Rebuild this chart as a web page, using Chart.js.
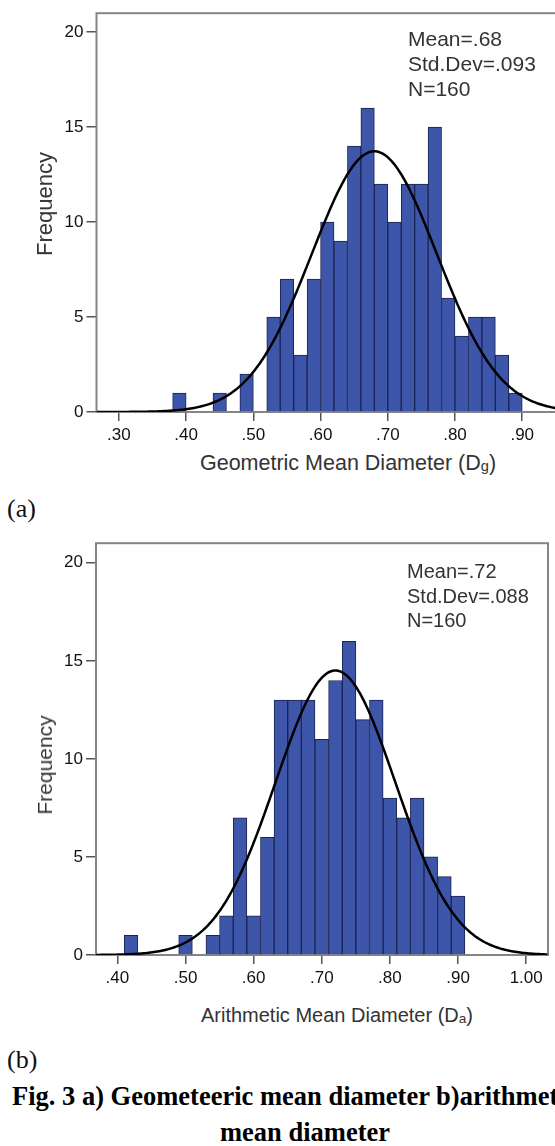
<!DOCTYPE html>
<html>
<head>
<meta charset="utf-8">
<script src="https://cdn.jsdelivr.net/npm/chart.js@4"></script>
<style>
  html, body { margin: 0; padding: 0; background: #fff; width: 555px; height: 1146px; overflow: hidden; }
  body { position: relative; font-family: "Liberation Sans", Arial, sans-serif; }
  .box { position: absolute; }
  .ytitle { position: absolute; white-space: nowrap; color: #333; transform: translate(-50%, -50%) rotate(-90deg); }
  .xtitle { position: absolute; white-space: nowrap; color: #333; transform: translate(-50%, -50%); }
  .xtitle sub { font-size: 0.68em; vertical-align: -0.12em; }
  .stats { position: absolute; color: #333; white-space: nowrap; }
  .tag { position: absolute; font-family: "Liberation Serif", "Times New Roman", serif; font-size: 26px; color: #111; }
  .cap { position: absolute; font-family: "Liberation Serif", "Times New Roman", serif; font-weight: bold; font-size: 26.5px; color: #000; white-space: nowrap; }
</style>
</head>
<body>

<div class="box" style="left:0; top:0; width:610px; height:444px;"><canvas id="geoChart" width="610" height="444"></canvas></div>
<div class="ytitle" style="left:45px; top:204px; font-size:22px;">Frequency</div>
<div class="xtitle" style="left:348px; top:463px; font-size:21.5px;">Geometric Mean Diameter (D<sub>g</sub>)</div>
<div class="stats" id="geoStats" style="left:408px; top:26px; font-size:21px; line-height:25px;"></div>

<div class="tag" style="left:7px; top:494px;">(a)</div>

<div class="box" style="left:0; top:530px; width:555px; height:457px;"><canvas id="ariChart" width="555" height="457"></canvas></div>
<div class="ytitle" style="left:45px; top:765px; font-size:21px;">Frequency</div>
<div class="xtitle" style="left:337px; top:1015px; font-size:20px;">Arithmetic Mean Diameter (D<sub>a</sub>)</div>
<div class="stats" id="ariStats" style="left:407px; top:559px; font-size:20px; line-height:24.5px;"></div>

<div class="tag" style="left:7px; top:1045px;">(b)</div>

<div class="cap" style="left:12px; top:1081px;">Fig. 3 a) Geometeeric mean diameter b)arithmetic</div>
<div class="cap" style="left:220px; top:1117px;">mean diameter</div>

<script>
// bin width shared by both histograms
const binWidth = 0.02;

// geometric mean diameter: left edge of each bin and its count
const geoBinStart = [0.38, 0.40, 0.42, 0.44, 0.46, 0.48, 0.50, 0.52, 0.54, 0.56, 0.58, 0.60, 0.62,
                     0.64, 0.66, 0.68, 0.70, 0.72, 0.74, 0.76, 0.78, 0.80, 0.82, 0.84, 0.86, 0.88];
const geoCounts   = [1, 0, 0, 1, 0, 2, 0, 5, 7, 3, 7, 10, 9,
                     14, 16, 12, 10, 12, 12, 15, 6, 4, 5, 5, 3, 1];
const geoMean = 0.68;
const geoSd = 0.093;
const geoN = 160;
const geoRange = [0.2667, 1.0];

// arithmetic mean diameter
const ariBinStart = [0.41, 0.43, 0.45, 0.47, 0.49, 0.51, 0.53, 0.55, 0.57, 0.59, 0.61, 0.63, 0.65,
                     0.67, 0.69, 0.71, 0.73, 0.75, 0.77, 0.79, 0.81, 0.83, 0.85, 0.87, 0.89];
const ariCounts   = [1, 0, 0, 0, 1, 0, 1, 2, 7, 2, 6, 13, 13,
                     13, 11, 14, 16, 12, 13, 8, 7, 8, 5, 4, 3];
const ariMean = 0.72;
const ariSd = 0.088;
const ariN = 160;
const ariRange = [0.3686, 1.032];

const yTicks = [0, 5, 10, 15, 20];
const yMax = 21;

const barFill = '#3e56a9';
const barEdge = '#1b2352';

function fmt(v) {
    return String(v).replace(/^0/, '');
}

function statsHtml(mean, sd, n) {
    return 'Mean=' + fmt(mean) + '<br>Std.Dev=' + fmt(sd) + '<br>N=' + n;
}

// fitted normal curve scaled to counts per bin
function normalCurve(mean, sd, n, range) {
    const pts = [];
    const step = 0.0025;
    for (let x = range[0]; x <= range[1] + 1e-9; x += step) {
        const z = (x - mean) / sd;
        const y = n * binWidth * Math.exp(-0.5 * z * z) / (sd * Math.sqrt(2 * Math.PI));
        pts.push({ x: x, y: y });
    }
    return pts;
}

function barPoints(starts, counts) {
    const pts = [];
    starts.forEach((s, i) => {
        if (counts[i] > 0) pts.push({ x: s + binWidth / 2, y: counts[i] });
    });
    return pts;
}

// grey box round the plot area
const framePlugin = {
    id: 'frame',
    beforeDatasetsDraw(chart) {
        const { ctx, chartArea: a } = chart;
        ctx.save();
        ctx.strokeStyle = '#858585';
        ctx.lineWidth = 2;
        ctx.strokeRect(a.left, a.top, a.right - a.left, a.bottom - a.top);
        ctx.restore();
    }
};

function makeHistogram(id, starts, counts, mean, sd, n, range, yAxisWidth, pad, tickSize) {
    const ctx = document.getElementById(id).getContext('2d');
    return new Chart(ctx, {
        type: 'bar',
        data: {
            datasets: [
                {
                    type: 'line',
                    data: normalCurve(mean, sd, n, range),
                    borderColor: '#000',
                    borderWidth: 2.5,
                    pointRadius: 0,
                    fill: false,
                    tension: 0,
                    order: 0
                },
                {
                    type: 'bar',
                    data: barPoints(starts, counts),
                    backgroundColor: barFill,
                    borderColor: barEdge,
                    borderWidth: 1,
                    borderSkipped: 'start',
                    barPercentage: 1,
                    categoryPercentage: 1,
                    order: 1
                }
            ]
        },
        options: {
            responsive: false,
            animation: false,
            devicePixelRatio: 1,
            layout: { padding: pad },
            plugins: { legend: { display: false }, tooltip: { enabled: false } },
            scales: {
                x: {
                    type: 'linear',
                    min: range[0],
                    max: range[1],
                    offset: false,
                    border: { display: false },
                    grid: { offset: false, drawOnChartArea: false, tickLength: 9, color: '#555', lineWidth: 1.5 },
                    ticks: {
                        stepSize: 0.1,
                        includeBounds: false,
                        autoSkip: false,
                        maxRotation: 0,
                        padding: 4,
                        color: '#111',
                        font: { family: 'Liberation Sans', size: tickSize },
                        callback: v => v.toFixed(2).replace(/^0/, '')
                    },
                    afterFit: scale => { scale.height = 32; }
                },
                y: {
                    min: 0,
                    max: yMax,
                    border: { display: false },
                    grid: { drawOnChartArea: false, tickLength: 10, color: '#555', lineWidth: 1.5 },
                    afterBuildTicks: scale => { scale.ticks = yTicks.map(v => ({ value: v })); },
                    ticks: {
                        padding: 3,
                        color: '#111',
                        font: { family: 'Liberation Sans', size: tickSize }
                    },
                    afterFit: scale => { scale.width = yAxisWidth; }
                }
            }
        },
        plugins: [framePlugin]
    });
}

document.getElementById('geoStats').innerHTML = statsHtml(geoMean, geoSd, geoN);
document.getElementById('ariStats').innerHTML = statsHtml(ariMean, ariSd, ariN);

makeHistogram('geoChart', geoBinStart, geoCounts, geoMean, geoSd, geoN, geoRange, 96.5,
    { top: 9, right: 10, bottom: 0, left: 0 }, 17);
makeHistogram('ariChart', ariBinStart, ariCounts, ariMean, ariSd, ariN, ariRange, 96,
    { top: 10, right: 7, bottom: 0, left: 0 }, 17);
</script>
</body>
</html>
